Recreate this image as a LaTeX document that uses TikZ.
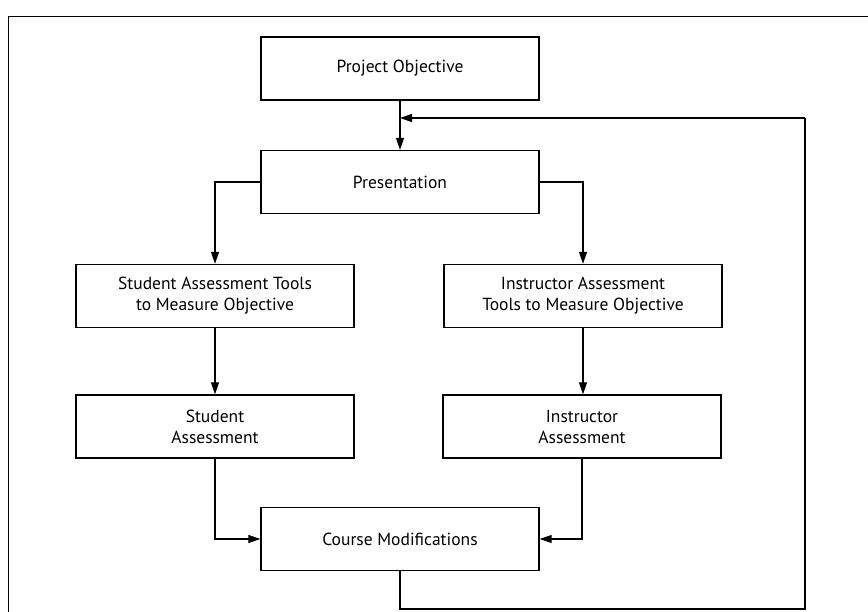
\documentclass[tikz,border=0pt]{standalone}
\usepackage{fontspec}
\setmainfont{PT Sans}
\usetikzlibrary{arrows.meta}
\begin{document}
\begin{tikzpicture}[x=1pt,y=1pt,
  box/.style={draw, line width=1.4pt, minimum width=278pt, minimum height=63pt, align=center, font=\fontsize{17.5}{21}\selectfont, inner sep=0pt},
  conn/.style={line width=1.2pt, -{Triangle[length=12pt,width=8pt]}},
  plain/.style={line width=1.2pt}]
\useasboundingbox (0,0) rectangle (868,-612);
\draw[line width=1pt] (8,-612) -- (8,-17) -- (868,-17);
\node[box] (po) at (400,-68.5) {Project Objective};
\node[box] (pres) at (400,-182) {Presentation};
\node[box] (sat) at (215,-296) {Student Assessment Tools\\to Measure Objective};
\node[box] (iat) at (583,-296) {Instructor Assessment\\Tools to Measure Objective};
\node[box] (sa) at (215,-426.5) {Student\\Assessment};
\node[box] (ia) at (582,-426.5) {Instructor\\Assessment};
\node[box] (cm) at (400,-539) {Course Modifications};
\coordinate (fbB) at (805,-609);
\coordinate (fbT) at (805,-118);
\draw[conn] (po) -- (pres);
\draw[conn] (pres.west) -| (sat.north);
\draw[conn] (pres.east) -| (iat.north);
\draw[conn] (sat) -- (sa);
\draw[conn] (iat.south) -- (iat.south |- ia.north);
\draw[conn] (sa.south) |- (cm.west);
\draw[conn] (ia.south) |- (cm.east);
\draw[plain] (cm.south) |- (fbB) -- (fbT);
\draw[conn] (fbT) -- (po.south |- fbT);
\end{tikzpicture}
\end{document}
